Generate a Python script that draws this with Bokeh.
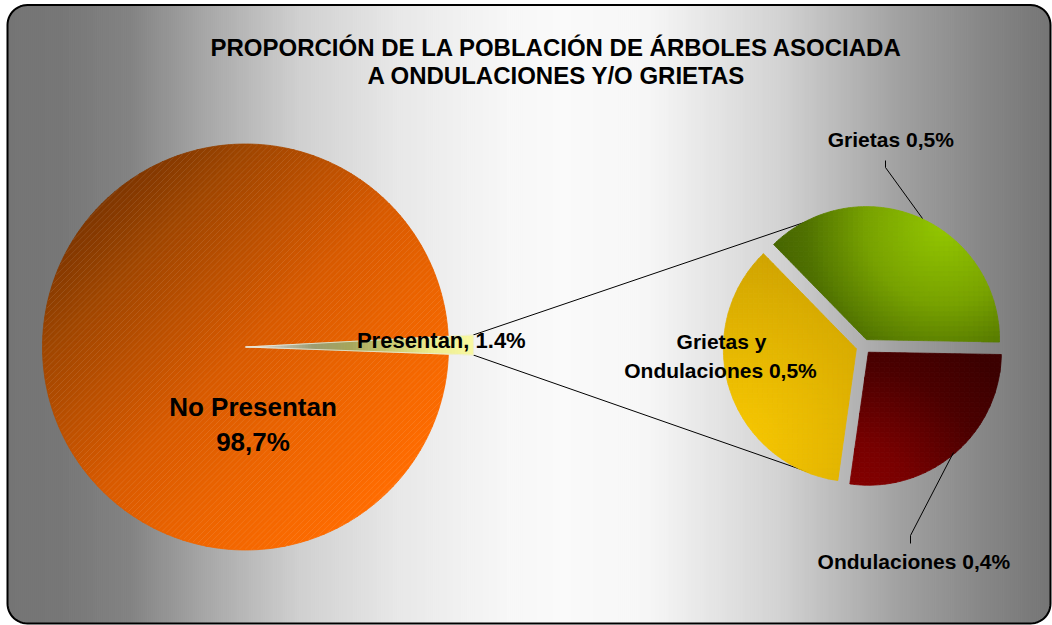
import numpy as np
from bokeh.plotting import figure
from bokeh.models import Range1d, ColumnDataSource
from bokeh.core.properties import value
from bokeh.embed import file_html
from bokeh.resources import INLINE

# ---------------- data ----------------
title_lines = ["PROPORCIÓN DE LA POBLACIÓN DE ÁRBOLES ASOCIADA",
               "A ONDULACIONES Y/O GRIETAS"]
main_labels = ["No Presentan", "Presentan"]
main_values = [98.7, 1.4]
main_pct = ["98,7%", "1.4%"]
sub_labels = ["Grietas", "Grietas y Ondulaciones", "Ondulaciones"]
sub_values = [0.53, 0.50, 0.38]
sub_pct = ["0,5%", "0,5%", "0,4%"]

# ---------------- helpers ----------------
def hex2rgb(h):
    return tuple(int(h[i:i + 2], 16) for i in (1, 3, 5))

def ramp(stops):
    ts = [s[0] for s in stops]
    cs = [hex2rgb(s[1]) for s in stops]
    def f(t):
        t = min(max(t, 0.0), 1.0)
        r = [np.interp(t, ts, [c[k] for c in cs]) for k in range(3)]
        return "#%02x%02x%02x" % tuple(int(round(v)) for v in r)
    return f

def clip(poly, nx, ny, c):
    out = []
    n = len(poly)
    for i in range(n):
        P = poly[i]
        Q = poly[(i + 1) % n]
        dp = nx * P[0] + ny * P[1] - c
        dq = nx * Q[0] + ny * Q[1] - c
        if dp <= 0:
            out.append(P)
        if (dp <= 0) != (dq <= 0):
            t = dp / (dp - dq)
            out.append((P[0] + t * (Q[0] - P[0]), P[1] + t * (Q[1] - P[1])))
    return out

def shade(poly, color_fn, cw, ch):
    xs = [q[0] for q in poly]
    ys = [q[1] for q in poly]
    x0, x1, y0, y1 = min(xs), max(xs), min(ys), max(ys)
    nx = max(1, int(np.ceil((x1 - x0) / cw)))
    ny = max(1, int(np.ceil((y1 - y0) / ch)))
    PX, PY, C = [], [], []
    for i in range(nx):
        a = x0 + i * cw
        b = min(a + cw, x1)
        col = clip(clip(poly, -1, 0, -a), 1, 0, b)
        if len(col) < 3:
            continue
        for j in range(ny):
            c0 = y0 + j * ch
            c1 = min(c0 + ch, y1)
            cell = clip(clip(col, 0, -1, -c0), 0, 1, c1)
            if len(cell) < 3:
                continue
            PX.append([q[0] for q in cell])
            PY.append([q[1] for q in cell])
            C.append(color_fn((a + b) / 2, (c0 + c1) / 2))
    return PX, PY, C

def wedge_poly(cx, cy, r, a0, a1):
    k = max(8, int(abs(a1 - a0) / 1.2))
    th = np.radians(np.linspace(a0, a1, k))
    return [(cx, cy)] + [(cx + r * np.cos(t), cy - r * np.sin(t)) for t in th]

def rrect(x0, y0, x1, y1, r, n=14):
    pts = []
    for cx, cy, a0 in [(x1 - r, y0 + r, 0), (x0 + r, y0 + r, 90),
                       (x0 + r, y1 - r, 180), (x1 - r, y1 - r, 270)]:
        for t in np.radians(np.linspace(a0, a0 + 90, n)):
            pts.append((cx + r * np.cos(t), cy - r * np.sin(t)))
    return pts

# ---------------- figure ----------------
p = figure(width=1052, height=625, x_range=Range1d(0, 1052), y_range=Range1d(625, 0),
           output_backend="svg", toolbar_location=None, min_border=0,
           x_axis_location=None, y_axis_location=None)
p.grid.visible = False
p.outline_line_color = None
p.background_fill_color = "white"
p.border_fill_color = "white"

def draw_shaded(poly, fn, cw, ch):
    PX, PY, C = shade(poly, fn, cw, ch)
    p.patches(PX, PY, fill_color=C, line_color=C, line_width=0.8)

# background
frame = rrect(7, 4.5, 1050, 623, 20)
gx = [0, 60, 130, 200, 300, 400, 500, 560, 650, 780, 900, 980, 1052]
gv = [116, 118, 130, 164, 208, 232, 246, 250, 246, 210, 160, 135, 116]
def bg_fn(x, y):
    g = int(round(np.interp(x, gx, gv)))
    return "#%02x%02x%02x" % (g, g, g)
draw_shaded(frame, bg_fn, 2, 700)

# geometry
big_c = (245.0, 346.5)
big_r = 203.0
sliver_r = 228.0
sliver_mid = 0.5
sub_c = (863.0, 346.0)
sub_r = 133.0
explode = 7.5
sub_start = -1.0

tot_main = sum(main_values)
span_pres = main_values[1] / tot_main * 360.0
pres_a0 = sliver_mid - span_pres / 2
pres_a1 = sliver_mid + span_pres / 2

# connector lines (behind second pie)
def pol(c, r, a):
    return (c[0] + r * np.cos(np.radians(a)), c[1] - r * np.sin(np.radians(a)))
s_top = pol(big_c, sliver_r, pres_a1)
s_bot = pol(big_c, sliver_r, pres_a0)
e_top = pol(sub_c, 137, 104)
e_bot = pol(sub_c, 137, 247)
p.segment(x0=[s_top[0], s_bot[0]], y0=[s_top[1], s_bot[1]],
          x1=[e_top[0], e_bot[0]], y1=[e_top[1], e_bot[1]],
          line_color="black", line_width=1)

# big pie: No Presentan
orange = ramp([(0, "#7e3600"), (0.16, "#a04600"), (0.5, "#d85a00"),
               (0.75, "#ee6500"), (1, "#ff6c00")])
d45 = np.sqrt(0.5)
def orange_fn(x, y):
    s = (x - big_c[0]) * d45 + (y - big_c[1]) * d45
    return orange((s + big_r) / (2 * big_r))
no_poly = wedge_poly(big_c[0], big_c[1], big_r, pres_a1, pres_a0 + 360)
draw_shaded(no_poly, orange_fn, 6, 6)

# fine diagonal texture on the big slice ("/" lines)
hx0, hy0, hx1, hy1 = [], [], [], []
step = 4.2 * np.sqrt(2)
for u in np.arange(-big_r * np.sqrt(2) + 2, big_r * np.sqrt(2), step):
    # line x + y = const (relative to centre), distance d from centre
    d = u / np.sqrt(2)
    if abs(d) >= big_r - 1:
        continue
    h = np.sqrt(big_r ** 2 - d ** 2) - 1
    mx, my = big_c[0] + d / np.sqrt(2), big_c[1] + d / np.sqrt(2)
    hx0.append(mx - h / np.sqrt(2)); hy0.append(my + h / np.sqrt(2))
    hx1.append(mx + h / np.sqrt(2)); hy1.append(my - h / np.sqrt(2))
p.segment(x0=hx0, y0=hy0, x1=hx1, y1=hy1, line_color="white", line_alpha=0.13,
          line_width=0.8)

# sliver: Presentan
sl = ramp([(0, "#e2e2da"), (0.15, "#c0c0b0"), (0.3, "#9c9c70"), (0.45, "#a4a45c"),
           (0.65, "#cccc74"), (0.82, "#ecec8e"), (1, "#f8f8a2")])
def sl_fn(x, y):
    return sl((x - big_c[0]) / sliver_r)
pres_poly = wedge_poly(big_c[0], big_c[1], sliver_r, pres_a0, pres_a1)
draw_shaded(pres_poly, sl_fn, 3, 40)
p.patch([q[0] for q in pres_poly], [q[1] for q in pres_poly], fill_color=None,
        line_color="#eeeedd", line_width=0.8)

# second pie
green = ramp([(0, "#94c800"), (0.45, "#78a200"), (0.8, "#4f7100"), (1, "#466400")])
yellow = ramp([(0, "#fac900"), (0.5, "#e6b800"), (1, "#d0a400")])
red = ramp([(0, "#880000"), (0.3, "#780000"), (0.7, "#4c0000"), (1, "#3c0000")])
def radial(ramp_fn, bx, by, sc):
    return lambda x, y: ramp_fn(np.hypot(x - bx, y - by) / sc)
sub_fns = [radial(green, 945, 225, 175), radial(yellow, 730, 450, 200),
           radial(red, 855, 500, 190)]
tot_sub = sum(sub_values)
a = sub_start
for v, fn in zip(sub_values, sub_fns):
    span = v / tot_sub * 360.0
    mid = a + span / 2
    ox = explode * np.cos(np.radians(mid))
    oy = -explode * np.sin(np.radians(mid))
    poly = wedge_poly(sub_c[0] + ox, sub_c[1] + oy, sub_r, a, a + span)
    draw_shaded(poly, fn, 5, 5)
    a += span

# leader lines
p.multi_line(xs=[[885, 885, 922], [953, 910, 910]],
             ys=[[160, 167, 218], [452, 535, 543]],
             line_color="black", line_width=1)

# texts
F = value("Liberation Sans")
p.text(x=[556, 556], y=[46.5, 74.5], text=title_lines, text_font=F, text_font_style="bold",
       text_font_size="24px", text_align="center", text_baseline="alphabetic",
       text_color="black")
p.text(x=[252.5, 252.5], y=[406, 441], text=[main_labels[0], main_pct[0]], text_font=F,
       text_font_style="bold", text_font_size="26px", text_align="center",
       text_baseline="alphabetic", text_color="black")
p.text(x=[440.8], y=[340], text=[main_labels[1] + ", " + main_pct[1]], text_font=F,
       text_font_style="bold", text_font_size="22px", text_align="center",
       text_baseline="alphabetic", text_color="black")
gyo = sub_labels[1].split(" ", 2)
sub_src = ColumnDataSource(dict(
    x=[890.3, 721, 720, 913.4],
    y=[138.7, 341, 369.5, 561],
    t=[sub_labels[0] + " " + sub_pct[0], gyo[0] + " " + gyo[1],
       gyo[2] + " " + sub_pct[1], sub_labels[2] + " " + sub_pct[2]]))
p.text(x="x", y="y", text="t", source=sub_src, text_font=F, text_font_style="bold",
       text_font_size="21px", text_align="center", text_baseline="alphabetic",
       text_color="black")

# frame border
p.line([q[0] for q in frame] + [frame[0][0]], [q[1] for q in frame] + [frame[0][1]],
       line_color="black", line_width=2)

open("out.html", "w").write(file_html(p, INLINE))
